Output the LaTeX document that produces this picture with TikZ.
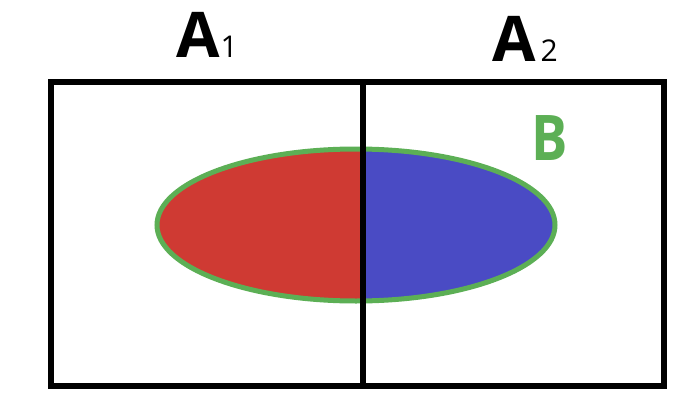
\documentclass[tikz,border=0pt]{standalone}
\usepackage{fontspec}
\setmainfont{Open Sans}
\usetikzlibrary{shapes.geometric}
\definecolor{redfill}{HTML}{CF3A33}
\definecolor{bluefill}{HTML}{4A4BC4}
\definecolor{greenline}{HTML}{5CAF55}
\tikzset{
  frame/.style={draw=black,line width=6pt},
  biglabel/.style={inner sep=0pt,anchor=base west,font=\fontsize{63}{63}\selectfont\bfseries},
}
\newcommand{\subnum}[1]{{\fontsize{30}{30}\selectfont\mdseries #1}}
\begin{document}
\begin{tikzpicture}[x=1pt,y=1pt]
\useasboundingbox (0,0) rectangle (698,408);
% box corners
\coordinate (tl) at (50.5,326);
\coordinate (br) at (664,22);
\coordinate (mt) at (363,326);
\coordinate (mb) at (363,22);
% ellipse halves
\begin{scope}
  \clip (0,0) rectangle (363,408);
  \fill[redfill] (356,183) ellipse [x radius=199,y radius=76];
\end{scope}
\begin{scope}
  \clip (363,0) rectangle (698,408);
  \fill[bluefill] (356,183) ellipse [x radius=199,y radius=76];
\end{scope}
\node[draw=greenline,line width=5pt,ellipse,minimum width=398pt,minimum height=152pt,inner sep=0pt] (B) at (356,183) {};
% frame
\draw[frame] (tl) rectangle (br);
\draw[frame] (mt) -- (mb);
% labels
\node[biglabel] (A1) at (176,350) {A\hspace{1pt}\subnum{1}};
\node[biglabel] (A2) at (492,346) {A\hspace{5pt}\subnum{2}};
\node[biglabel,text=greenline] (Bl) at (531,248) {\scalebox{0.86}[1]{B}};
\end{tikzpicture}
\end{document}
